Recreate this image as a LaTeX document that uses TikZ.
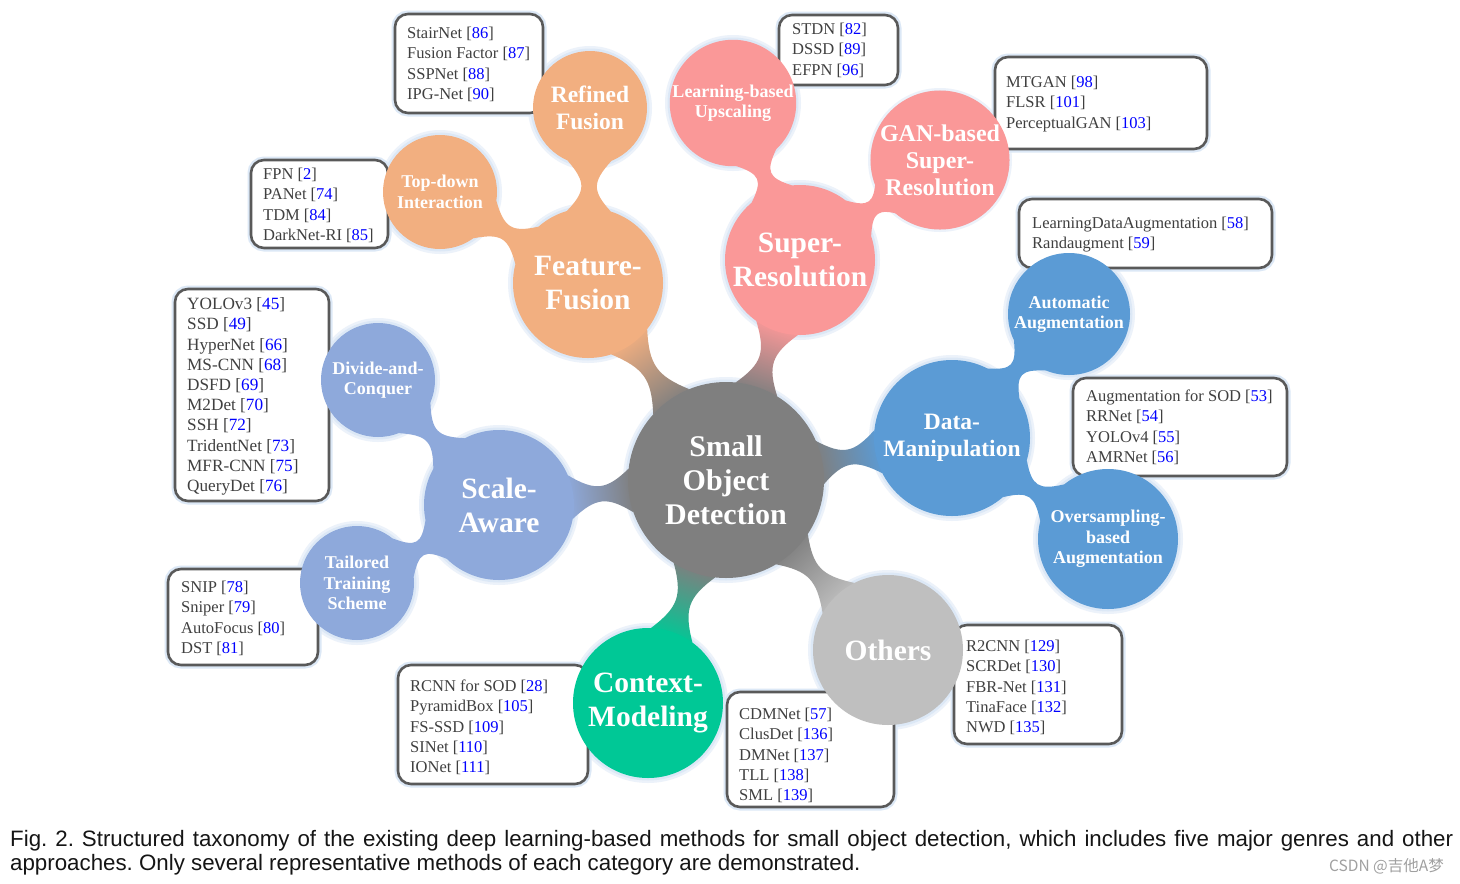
\documentclass[tikz,border=0pt]{standalone}
\usepackage{fontspec}
\setmainfont{Liberation Serif}
\newfontfamily\capfont{Liberation Sans}
\newfontfamily\cjk{Noto Sans CJK SC}
\usetikzlibrary{calc}
\definecolor{cgray}{HTML}{7F7F7F}
\definecolor{corange}{HTML}{F2AF80}
\definecolor{cpink}{HTML}{FA9898}
\definecolor{cblue}{HTML}{5B9BD5}
\definecolor{clight}{HTML}{BFBFBF}
\definecolor{cgreen}{HTML}{00C896}
\definecolor{cperi}{HTML}{8EA9DB}
\definecolor{boxline}{HTML}{595959}
\definecolor{boxtext}{HTML}{404040}
\definecolor{refblue}{HTML}{0000FF}
\definecolor{glowc}{HTML}{DCE8F6}
\definecolor{captext}{HTML}{151515}
\definecolor{wmgray}{HTML}{A0A0A0}
\pgfdeclarelayer{glow}\pgfdeclarelayer{boxes}\pgfdeclarelayer{links}
\pgfsetlayers{glow,boxes,links,main}
\newcommand\rf[1]{[{\color{refblue}#1}]}
\def\lnkh{22}
\def\lnkw{3}
\makeatletter
\newcommand\lnk[6]{%
 \pgfpointdiff{\pgfpointanchor{#1}{center}}{\pgfpointanchor{#3}{center}}%
 \edef\lnkdx{\the\pgf@x}\edef\lnkdy{\the\pgf@y}%
 \pgfmathsetmacro\lnkang{atan2(\lnkdy,\lnkdx)}%
 \pgfmathsetmacro\lnksh{\lnkang-90}%
 \pgfmathsetmacro\lnkd{veclen(\lnkdx,\lnkdy)}%
 \pgfmathsetmacro\lnkma{#2+0.4*(\lnkd-#2-#4)}%
 \pgfmathsetmacro\lnkmb{#4+0.4*(\lnkd-#2-#4)}%
 \pgfmathsetmacro\lnka{asin(\lnkh/#2)}%
 \pgfmathsetmacro\lnkb{asin(\lnkh/#4)}%
 \coordinate (lkMa) at ($(#1)!\lnkma pt!(#3)$);
 \coordinate (lkMb) at ($(#3)!\lnkmb pt!(#1)$);
 \coordinate (lkPaL) at ($(#1)!#2pt!\lnka:(#3)$);
 \coordinate (lkPaR) at ($(#1)!#2pt!-\lnka:(#3)$);
 \coordinate (lkPbL) at ($(#3)!#4pt!-\lnkb:(#1)$);
 \coordinate (lkPbR) at ($(#3)!#4pt!\lnkb:(#1)$);
 \coordinate (lkCaL) at ($(lkMa)!\lnkw pt!90:(#3)$);
 \coordinate (lkCaR) at ($(lkMa)!\lnkw pt!-90:(#3)$);
 \coordinate (lkCbL) at ($(lkMb)!\lnkw pt!-90:(#1)$);
 \coordinate (lkCbR) at ($(lkMb)!\lnkw pt!90:(#1)$);
 \shade[top color=#6, bottom color=#5, shading angle=\lnksh]
   (lkPaL) .. controls (lkCaL) and (lkCbL) .. (lkPbL) -- (lkPbR)
   .. controls (lkCbR) and (lkCaR) .. (lkPaR) -- cycle;
}
\makeatother
\tikzset{
 bub/.style={circle, inner sep=0pt, outer sep=0pt, text=white, align=center},
 ft0/.style={font=\fontsize{30}{34}\selectfont\bfseries},
 ft1/.style={font=\fontsize{29.5}{34}\selectfont\bfseries},
 ft2/.style={font=\fontsize{23.5}{27}\selectfont\bfseries},
 ftg/.style={font=\fontsize{24}{27}\selectfont\bfseries},
 ft3/.style={font=\fontsize{18}{20.5}\selectfont\bfseries},
 listbox/.style={draw=boxline, line width=2.6pt, rounded corners=13pt, fill=white,
   inner sep=0pt, outer sep=0pt, anchor=north west,
   preaction={draw=glowc, line width=7pt}},
 listtxt/.style={anchor=north west, inner sep=0pt, align=left, text=boxtext,
   font=\fontsize{16.5}{20.2}\selectfont},
 captxt/.style={anchor=base west, inner sep=0pt, text=captext,
   font=\capfont\fontsize{22.3}{26}\selectfont\frenchspacing},
}
\begin{document}
\begin{tikzpicture}[x=1pt,y=-1pt]
\useasboundingbox (0,0) rectangle (1460,884);
% bubbles
\node[bub, fill=cgray, minimum size=196pt, ft0] (C) at (726,480) {Small\\Object\\Detection};
\node[bub, fill=corange, minimum size=150pt, ft1] (FF) at (588,283) {Feature-\\Fusion};
\node[bub, fill=corange, minimum size=114pt, ft2] (RF) at (590,108) {Refined\\Fusion};
\node[bub, fill=corange, minimum size=114pt, ft3] (TD) at (440,192) {Top-down\\Interaction};
\node[bub, fill=cpink, minimum size=150pt, ft1] (SR) at (800,260) {Super-\\Resolution};
\node[bub, fill=cpink, minimum size=126pt, ft3] (LU) at (733,103) {Learning-based\\Upscaling};
\node[bub, fill=cpink, minimum size=134pt, ftg] (GS) at (940,160) {GAN-based\\Super-\\Resolution};
\node[bub, fill=cblue, minimum size=156pt, ft2] (DM) at (952,438) {Data-\\Manipulation};
\node[bub, fill=cblue, minimum size=122pt, ft3] (AA) at (1069,314) {Automatic\\Augmentation};
\node[bub, fill=cblue, minimum size=140pt, ft3] (OS) at (1108,539) {Oversampling-\\based\\Augmentation};
\node[bub, fill=clight, minimum size=150pt, ft1] (OT) at (888,650) {Others};
\node[bub, fill=cgreen, minimum size=150pt, ft1] (CM) at (648,703) {Context-\\Modeling};
\node[bub, fill=cperi, minimum size=150pt, ft1] (SA) at (499,505) {Scale-\\Aware};
\node[bub, fill=cperi, minimum size=114pt, ft3] (DC) at (378,380) {Divide-and-\\Conquer};
\node[bub, fill=cperi, minimum size=114pt, ft3] (TT) at (357,583) {Tailored\\Training\\Scheme};
% background and halos
\begin{pgfonlayer}{glow}
\fill[white] (0,0) rectangle (1460,884);
\foreach \n/\r in {C/98,FF/75,RF/57,TD/57,SR/75,LU/63,GS/67,DM/78,AA/61,OS/70,OT/75,CM/75,SA/75,DC/57,TT/57}{
  \fill[glowc!55] (\n.center) circle[radius=\r pt+5pt];
  \fill[glowc] (\n.center) circle[radius=\r pt+2.5pt];
}
\end{pgfonlayer}
% connectors
\begin{pgfonlayer}{links}
\lnk{C}{98}{FF}{75}{cgray}{corange}
\lnk{C}{98}{SR}{75}{cgray}{cpink}
\lnk{C}{98}{DM}{78}{cgray}{cblue}
\lnk{C}{98}{OT}{75}{cgray}{clight}
\lnk{C}{98}{CM}{75}{cgray}{cgreen}
\lnk{C}{98}{SA}{75}{cgray}{cperi}
\lnk{FF}{75}{RF}{57}{corange}{corange}
\lnk{FF}{75}{TD}{57}{corange}{corange}
\lnk{SR}{75}{LU}{63}{cpink}{cpink}
\lnk{SR}{75}{GS}{67}{cpink}{cpink}
\lnk{DM}{78}{AA}{61}{cblue}{cblue}
\lnk{DM}{78}{OS}{70}{cblue}{cblue}
\lnk{SA}{75}{DC}{57}{cperi}{cperi}
\lnk{SA}{75}{TT}{57}{cperi}{cperi}
\end{pgfonlayer}
% lists
\begin{pgfonlayer}{boxes}
\node[listbox, minimum width=148pt, minimum height=99pt] (b1) at (395,14) {};
\node[listtxt] (t1) at (407,24.4) {\strut StairNet \rf{86}\\Fusion Factor \rf{87}\\SSPNet \rf{88}\\IPG-Net \rf{90}};
\node[listbox, minimum width=119pt, minimum height=70pt] (b2) at (779,15) {};
\node[listtxt] (t2) at (792,20.4) {\strut STDN \rf{82}\\DSSD \rf{89}\\EFPN \rf{96}};
\node[listbox, minimum width=212pt, minimum height=92pt] (b3) at (995,57) {};
\node[listtxt] (t3) at (1006,73.4) {\strut MTGAN \rf{98}\\FLSR \rf{101}\\PerceptualGAN \rf{103}};
\node[listbox, minimum width=253pt, minimum height=69pt] (b4) at (1019,199) {};
\node[listtxt] (t4) at (1032,214.4) {\strut LearningDataAugmentation \rf{58}\\Randaugment \rf{59}};
\node[listbox, minimum width=137pt, minimum height=88pt] (b5) at (251,160) {};
\node[listtxt] (t5) at (263,165.4) {\strut FPN \rf{2}\\PANet \rf{74}\\TDM \rf{84}\\DarkNet-RI \rf{85}};
\node[listbox, minimum width=154pt, minimum height=212pt] (b6) at (175,289) {};
\node[listtxt, font=\fontsize{17.2}{20.2}\selectfont] (t6) at (187,295.4) {\strut YOLOv3 \rf{45}\\SSD \rf{49}\\HyperNet \rf{66}\\MS-CNN \rf{68}\\DSFD \rf{69}\\M2Det \rf{70}\\SSH \rf{72}\\TridentNet \rf{73}\\MFR-CNN \rf{75}\\QueryDet \rf{76}};
\node[listbox, minimum width=214pt, minimum height=98pt] (b7) at (1073,378) {};
\node[listtxt] (t7) at (1086,387.4) {\strut Augmentation for SOD \rf{53}\\RRNet \rf{54}\\YOLOv4 \rf{55}\\AMRNet \rf{56}};
\node[listbox, minimum width=150pt, minimum height=96pt] (b8) at (168,569) {};
\node[listtxt] (t8) at (181,578.4) {\strut SNIP \rf{78}\\Sniper \rf{79}\\AutoFocus \rf{80}\\DST \rf{81}};
\node[listbox, minimum width=190pt, minimum height=119pt] (b9) at (398,665) {};
\node[listtxt] (t9) at (410,677.4) {\strut RCNN for SOD \rf{28}\\PyramidBox \rf{105}\\FS-SSD \rf{109}\\SINet \rf{110}\\IONet \rf{111}};
\node[listbox, minimum width=167pt, minimum height=115pt] (b10) at (727,692) {};
\node[listtxt] (t10) at (739,705.4) {\strut CDMNet \rf{57}\\ClusDet \rf{136}\\DMNet \rf{137}\\TLL \rf{138}\\SML \rf{139}};
\node[listbox, minimum width=168pt, minimum height=119pt] (b11) at (954,625) {};
\node[listtxt] (t11) at (966,637.4) {\strut R2CNN \rf{129}\\SCRDet \rf{130}\\FBR-Net \rf{131}\\TinaFace \rf{132}\\NWD \rf{135}};
\end{pgfonlayer}
% caption
\node[captxt] (cap1) at (10,846)
 {\makebox[1443pt][s]{Fig. 2. Structured taxonomy of the existing deep learning-based methods for small object detection, which includes five major genres and other}};
\node[captxt] (cap2) at (10,870)
 {approaches. Only several representative methods of each category are demonstrated.};
\node[anchor=east, inner sep=0pt, text=wmgray, font=\cjk\fontsize{15.5}{17}\selectfont] (wm) at (1444,866) {CSDN @吉他A梦};
\end{tikzpicture}
\end{document}
